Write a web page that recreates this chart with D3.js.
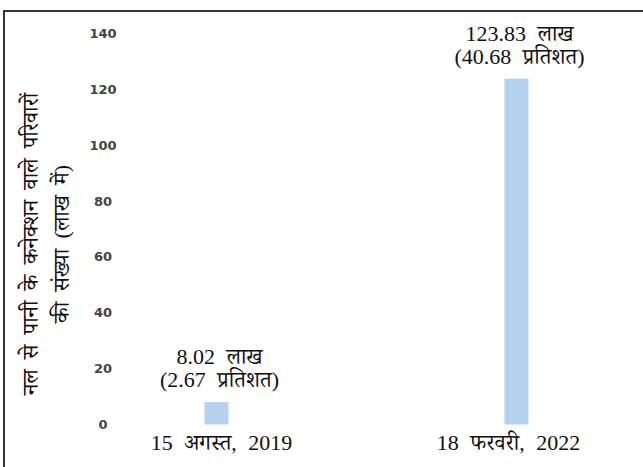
<!DOCTYPE html>
<html>
<head>
<meta charset="utf-8">
<script src="https://cdn.jsdelivr.net/npm/d3@7"></script>
<style>
  body { margin: 0; background: #fff; }
  .serif { font-family: "Liberation Serif", "Noto Serif Devanagari", "Noto Sans Devanagari", serif; fill: #111; word-spacing: 6px; }
</style>
</head>
<body>
<div id="chart"></div>
<script>
// data
const categories = ['15 अगस्त, 2019', '18 फरवरी, 2022'];
const values = [8.02, 123.83];
const valueLabels = ['8.02 लाख', '123.83 लाख'];
const percentLabels = ['(2.67 प्रतिशत)', '(40.68 प्रतिशत)'];
const yTicks = [0, 20, 40, 60, 80, 100, 120, 140];
const yTitle = ['नल से पानी के कनेक्शन वाले परिवारों', 'की संख्या (लाख में)'];

const width = 643;
const height = 467;

const svg = d3.select('#chart')
    .append('svg')
    .attr('width', width)
    .attr('height', height);

// frame (top and left edges only show)
svg.append('path')
    .attr('d', 'M4,467 L4,11 L643,11')
    .attr('fill', 'none')
    .attr('stroke', '#333')
    .attr('stroke-width', 2);

// scales
const yScale = d3.scaleLinear()
    .domain([0, 140])
    .range([424.5, 33.5]);

const xScale = d3.scalePoint()
    .domain(categories)
    .range([216.5, 516.5]);

const barWidth = 24;

// y tick labels (no axis line)
svg.selectAll('.y-tick')
    .data(yTicks)
    .enter()
    .append('text')
    .attr('class', 'y-tick')
    .attr('x', 103)
    .attr('y', d => yScale(d))
    .attr('dy', '0.35em')
    .attr('text-anchor', 'middle')
    .style('font-family', 'DejaVu Sans')
    .style('font-weight', 'bold')
    .style('font-size', '13px')
    .style('fill', '#444')
    .text(d => d);

// bars
svg.selectAll('.bar')
    .data(values)
    .enter()
    .append('rect')
    .attr('class', 'bar')
    .attr('x', (d, i) => xScale(categories[i]) - barWidth / 2)
    .attr('y', d => yScale(d))
    .attr('width', barWidth)
    .attr('height', d => yScale(0) - yScale(d))
    .attr('fill', '#b5d3ef');

// value labels above bars
svg.selectAll('.val')
    .data(values)
    .enter()
    .append('text')
    .attr('class', 'val serif')
    .attr('x', (d, i) => xScale(categories[i]) + 3)
    .attr('y', d => yScale(d) - 38)
    .attr('text-anchor', 'middle')
    .style('font-size', '22px')
    .text((d, i) => valueLabels[i]);

svg.selectAll('.pct')
    .data(values)
    .enter()
    .append('text')
    .attr('class', 'pct serif')
    .attr('x', (d, i) => xScale(categories[i]) + 3)
    .attr('y', d => yScale(d) - 15)
    .attr('text-anchor', 'middle')
    .style('font-size', '22px')
    .text((d, i) => percentLabels[i]);

// category labels
svg.selectAll('.cat')
    .data(categories)
    .enter()
    .append('text')
    .attr('class', 'cat serif')
    .attr('x', (d, i) => xScale(d) + (i === 0 ? 5 : -8))
    .attr('y', 450)
    .attr('text-anchor', 'middle')
    .style('font-size', '22px')
    .text(d => d);

// y axis title, two rotated lines
svg.selectAll('.ytitle')
    .data(yTitle)
    .enter()
    .append('text')
    .attr('class', 'ytitle serif')
    .attr('transform', (d, i) => `translate(${38 + i * 31}, 244) rotate(-90)`)
    .attr('text-anchor', 'middle')
    .style('font-size', '22px')
    .style('word-spacing', '5px')
    .text(d => d);
</script>
</body>
</html>
